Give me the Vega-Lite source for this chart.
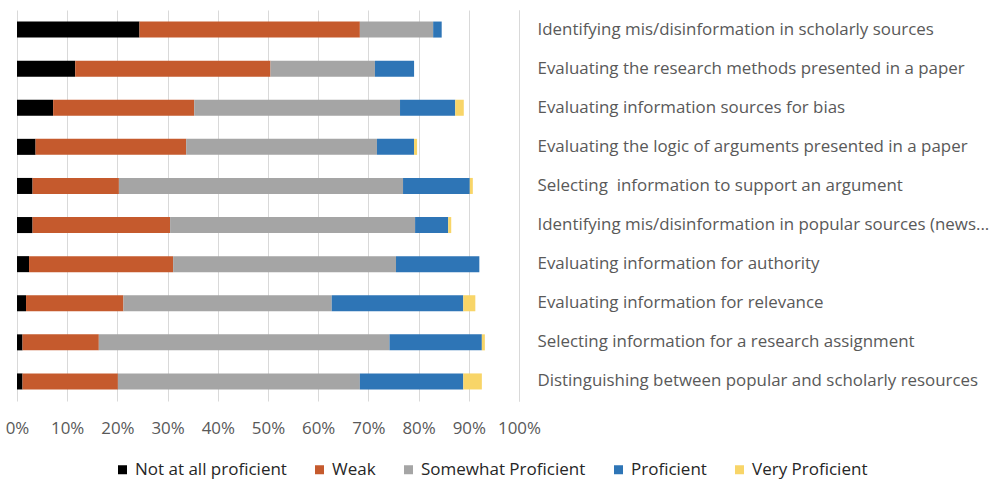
{
  "$schema": "https://vega.github.io/schema/vega-lite/v6.json",
  "width": 502,
  "height": 391,
  "autosize": {"type": "none"},
  "padding": {"left": 17, "top": 10, "right": 470, "bottom": 81},
  "background": "white",
  "config": {
    "view": {"stroke": null},
    "font": "Open Sans"
  },
  "data": {
    "values": [
      {"skill": "Identifying mis/disinformation in scholarly sources", "Not at all proficient": 0.244, "Weak": 0.439, "Somewhat Proficient": 0.146, "Proficient": 0.017, "Very Proficient": 0},
      {"skill": "Evaluating the research methods presented in a paper", "Not at all proficient": 0.116, "Weak": 0.389, "Somewhat Proficient": 0.208, "Proficient": 0.078, "Very Proficient": 0},
      {"skill": "Evaluating information sources for bias", "Not at all proficient": 0.072, "Weak": 0.281, "Somewhat Proficient": 0.410, "Proficient": 0.110, "Very Proficient": 0.017},
      {"skill": "Evaluating the logic of arguments presented in a paper", "Not at all proficient": 0.037, "Weak": 0.300, "Somewhat Proficient": 0.380, "Proficient": 0.074, "Very Proficient": 0.006},
      {"skill": "Selecting\u00a0 information to support an argument", "Not at all proficient": 0.031, "Weak": 0.172, "Somewhat Proficient": 0.566, "Proficient": 0.133, "Very Proficient": 0.006},
      {"skill": "Identifying mis/disinformation in popular sources (news...", "Not at all proficient": 0.031, "Weak": 0.274, "Somewhat Proficient": 0.488, "Proficient": 0.066, "Very Proficient": 0.006},
      {"skill": "Evaluating information for authority", "Not at all proficient": 0.024, "Weak": 0.287, "Somewhat Proficient": 0.444, "Proficient": 0.166, "Very Proficient": 0},
      {"skill": "Evaluating information for relevance", "Not at all proficient": 0.018, "Weak": 0.194, "Somewhat Proficient": 0.415, "Proficient": 0.262, "Very Proficient": 0.024},
      {"skill": "Selecting information for a research assignment", "Not at all proficient": 0.011, "Weak": 0.152, "Somewhat Proficient": 0.579, "Proficient": 0.184, "Very Proficient": 0.006},
      {"skill": "Distinguishing between popular and scholarly resources", "Not at all proficient": 0.011, "Weak": 0.190, "Somewhat Proficient": 0.482, "Proficient": 0.206, "Very Proficient": 0.037}
    ]
  },
  "transform": [
    {"fold": ["Not at all proficient", "Weak", "Somewhat Proficient", "Proficient", "Very Proficient"], "as": ["level", "pct"]},
    {"window": [{"op": "row_number", "as": "rank"}], "groupby": ["skill"]}
  ],
  "mark": {"type": "bar"},
  "encoding": {
    "y": {
      "field": "skill",
      "type": "nominal",
      "sort": null,
      "title": null,
      "scale": {"paddingInner": 0.59, "paddingOuter": 0.295},
      "axis": {
        "orient": "right",
        "ticks": false,
        "domainColor": "#d9d9d9",
        "labelPadding": 18,
        "labelFontSize": 16.9,
        "labelColor": "#595959",
        "labelLimit": 480
      }
    },
    "x": {
      "field": "pct",
      "type": "quantitative",
      "stack": "zero",
      "title": null,
      "scale": {"domain": [0, 1], "nice": false},
      "axis": {
        "values": [0, 0.1, 0.2, 0.3, 0.4, 0.5, 0.6, 0.7, 0.8, 0.9, 1],
        "format": ".0%",
        "domain": false,
        "ticks": false,
        "gridColor": "#d9d9d9",
        "labelOverlap": false,
        "labelBound": false,
        "labelFlush": false,
        "labelPadding": 19,
        "labelFontSize": 16.9,
        "labelColor": "#595959"
      }
    },
    "order": {"field": "rank", "type": "quantitative"},
    "color": {
      "field": "level",
      "type": "nominal",
      "sort": ["Not at all proficient", "Weak", "Somewhat Proficient", "Proficient", "Very Proficient"],
      "scale": {
        "domain": ["Not at all proficient", "Weak", "Somewhat Proficient", "Proficient", "Very Proficient"],
        "range": ["#000000", "#c55a2d", "#a5a5a5", "#2e75b6", "#f8d568"]
      },
      "legend": {
        "title": null,
        "orient": "none",
        "direction": "horizontal",
        "legendX": 97,
        "legendY": 451,
        "symbolType": "square",
        "symbolSize": 81,
        "symbolStrokeWidth": 0,
        "labelFontSize": 17,
        "labelLimit": 300,
        "labelColor": "#262626",
        "labelOffset": 4,
        "columnPadding": 24
      }
    }
  }
}
